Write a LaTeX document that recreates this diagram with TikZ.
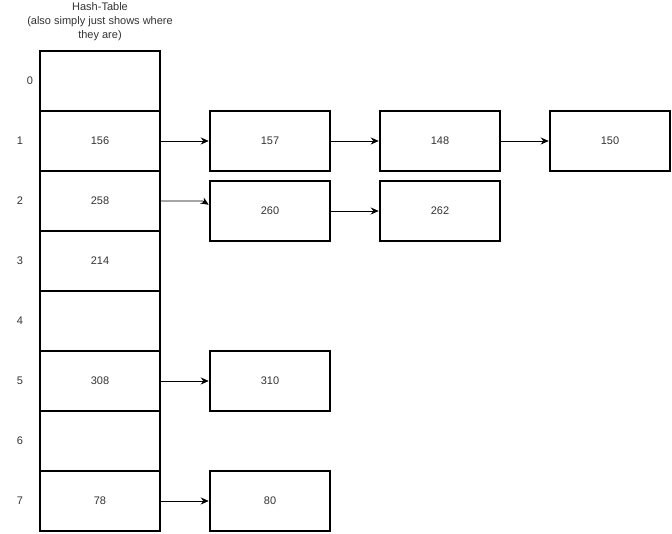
\documentclass[tikz,border=0pt]{standalone}
\usepackage{fontspec}
\setmainfont{Liberation Sans}
\usetikzlibrary{positioning,arrows.meta}
\definecolor{txt}{HTML}{333333}
\begin{document}
\begin{tikzpicture}[x=1pt,y=-1pt,
	every node/.style={font=\fontsize{11}{14}\selectfont,text=txt},
	cell/.style={draw,line width=2.5pt,minimum width=120pt,minimum height=60pt,inner sep=0pt,outer sep=0pt},
	box/.style={draw,line width=2.5pt,minimum width=120pt,minimum height=60pt,inner sep=0pt},
	arr/.style={-{Stealth[length=8pt,width=7pt]},line width=0.8pt}]
	\useasboundingbox (0,0) rectangle (672,533);
	% title
	\node[align=center] (title) at (100,22) {Hash-Table\\(also simply just shows where\\they are)};
	% table
	\foreach \i/\v in {0/,1/156,2/258,3/214,4/,5/308,6/,7/78}{
		\node[cell] (r\i) at (100,{81+60*\i}) {\v};
	}
	\node (i0) at (30,81) {0};
	\foreach \i in {1,...,7}
		\node (i\i) at (20,{81+60*\i}) {\i};
	% chains
	\node[box, right=48.75pt of r1] (n157) {157};
	\node[box, right=47.5pt of n157] (n148) {148};
	\node[box, right=47.5pt of n148] (n150) {150};
	\node[box, below=7.5pt of n157] (n260) {260};
	\node[box, right=47.5pt of n260] (n262) {262};
	\node[box, right=48.75pt of r5] (n310) {310};
	\node[box, right=48.75pt of r7] (n80) {80};
	
	\draw[arr] (r1) -- (n157);
	\draw[arr] (n157) -- (n148);
	\draw[arr] (n148) -- (n150);
	\coordinate (bend) at ([xshift=-6pt]n260.west |- r2.east);
	\draw[arr] (r2.east) -- (bend) -- ([yshift=-25pt]n260.north west);
	\draw[arr] (n260) -- (n262);
	\draw[arr] (r5) -- (n310);
	\draw[arr] (r7) -- (n80);
\end{tikzpicture}
\end{document}
